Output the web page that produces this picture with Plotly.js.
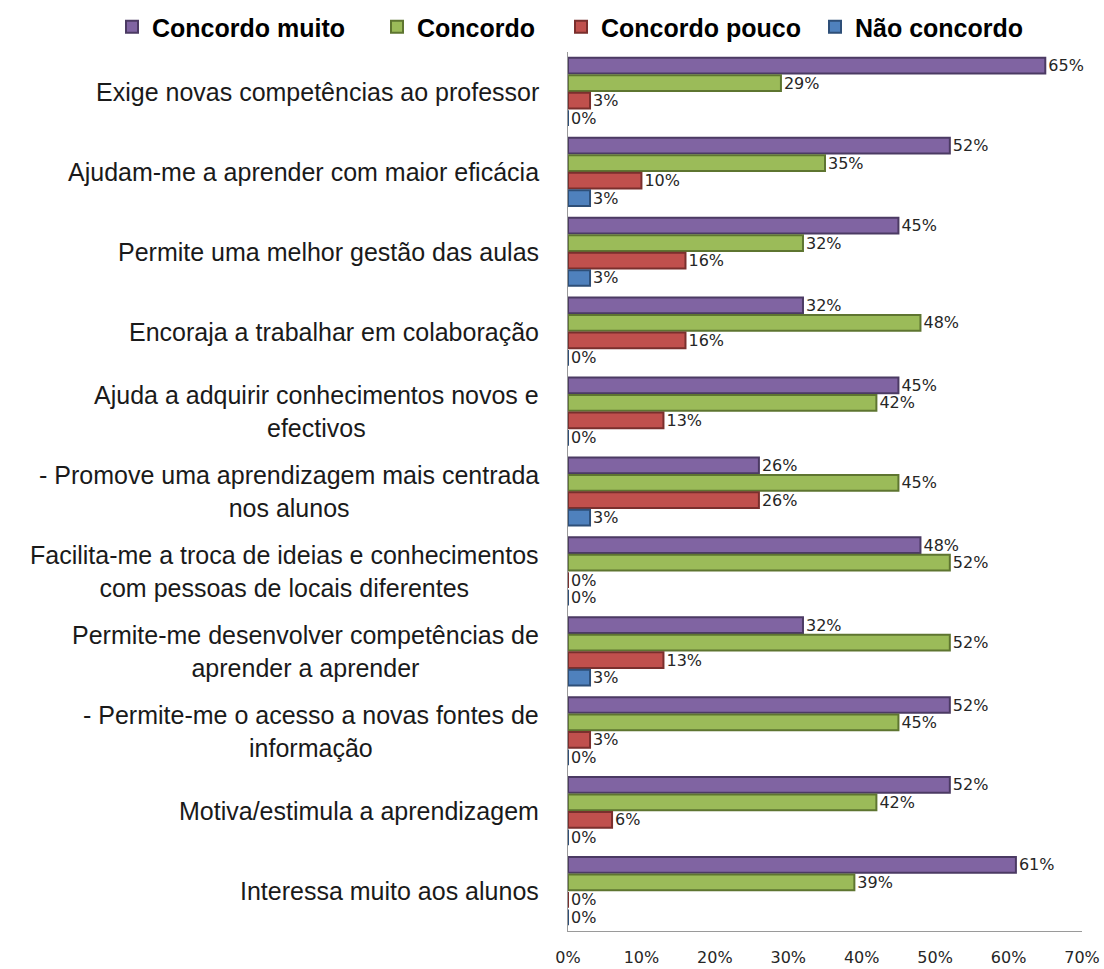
<!DOCTYPE html>
<html>
<head>
<meta charset="utf-8">
<script src="https://cdn.plot.ly/plotly-3.0.1.min.js"></script>
<style>html,body{margin:0;padding:0;background:#fff;}#chart{width:1104px;height:969px;}</style>
</head>
<body>
<div id="chart"></div>
<script>
const categories = [
  "Exige novas competências ao professor",
  "Ajudam-me a aprender com maior eficácia",
  "Permite uma melhor gestão das aulas",
  "Encoraja a trabalhar em colaboração",
  "Ajuda a adquirir conhecimentos novos e<br>efectivos",
  "- Promove uma aprendizagem mais centrada<br>nos alunos",
  "Facilita-me a troca de ideias e conhecimentos<br>com pessoas de locais diferentes",
  "Permite-me desenvolver competências de<br>aprender a aprender",
  "- Permite-me o acesso a novas fontes de<br>informação",
  "Motiva/estimula a aprendizagem",
  "Interessa muito aos alunos"
];
const seriesNames = ["Concordo muito", "Concordo", "Concordo pouco", "Não concordo"];
const concordoMuito = [65, 52, 45, 32, 45, 26, 48, 32, 52, 52, 61];
const concordo      = [29, 35, 32, 48, 42, 45, 52, 52, 45, 42, 39];
const concordoPouco = [3, 10, 16, 16, 13, 26, 0, 13, 3, 6, 0];
const naoConcordo   = [0, 3, 3, 0, 0, 3, 0, 3, 0, 0, 0];
const tickVals = [0, 10, 20, 30, 40, 50, 60, 70];
const tickText = ["0%", "10%", "20%", "30%", "40%", "50%", "60%", "70%"];

const seriesValues = [concordoMuito, concordo, concordoPouco, naoConcordo];
const colors = ["#8064A2", "#9BBB59", "#C0504D", "#4F81BD"];
const edgeColors = ["#4B3A63", "#5E7530", "#7A2F2D", "#2E4F78"];
const legendIds = ["legend", "legend2", "legend3", "legend4"];
const legendX = [112, 377, 561, 815];

const traces = seriesValues.map((vals, i) => ({
  type: "bar",
  orientation: "h",
  name: seriesNames[i],
  x: vals,
  y: categories,
  legend: legendIds[i],
  marker: {color: colors[i], line: {color: edgeColors[i], width: 2}},
  text: vals.map(v => v + "%"),
  textposition: "outside",
  constraintext: "none",
  textfont: {family: "DejaVu Sans", size: 16, color: "#262626"},
  cliponaxis: false,
  hoverinfo: "none"
}));

const annotations = categories.map(c => ({
  xref: "paper", yref: "y", x: 0, y: c, xshift: -27,
  xanchor: "right", yanchor: "middle", align: "center",
  text: c, showarrow: false,
  font: {family: "Liberation Sans, Arial", size: 25, color: "#1a1a1a"}
}));

const layout = {
  width: 1104, height: 969,
  margin: {l: 568, r: 22, t: 52, b: 38},
  paper_bgcolor: "#fff", plot_bgcolor: "#fff",
  barmode: "group", bargap: 0.125, bargroupgap: 0.1,
  showlegend: true,
  xaxis: {
    range: [0, 70], tickvals: tickVals, ticktext: tickText,
    showgrid: false, zeroline: false, showline: true, linecolor: "#9a9a9a", linewidth: 1,
    ticks: "", ticklabelstandoff: 12,
    tickfont: {family: "DejaVu Sans", size: 16, color: "#262626"}, fixedrange: true
  },
  yaxis: {
    autorange: "reversed", showticklabels: false, ticks: "",
    showgrid: false, zeroline: false, showline: true, linecolor: "#9a9a9a", linewidth: 1, fixedrange: true
  },
  annotations: annotations,
  hovermode: false
};
legendIds.forEach((id, i) => {
  layout[id] = {
    orientation: "h", xref: "container", yref: "container",
    x: legendX[i] / 1104, y: 1 - 27 / 969, xanchor: "left", yanchor: "middle",
    font: {family: "Liberation Sans, Arial", size: 25, color: "#000", weight: 700},
    bgcolor: "rgba(0,0,0,0)", itemclick: false, itemdoubleclick: false
  };
});

Plotly.newPlot("chart", traces, layout, {displayModeBar: false, staticPlot: true});
</script>
</body>
</html>
